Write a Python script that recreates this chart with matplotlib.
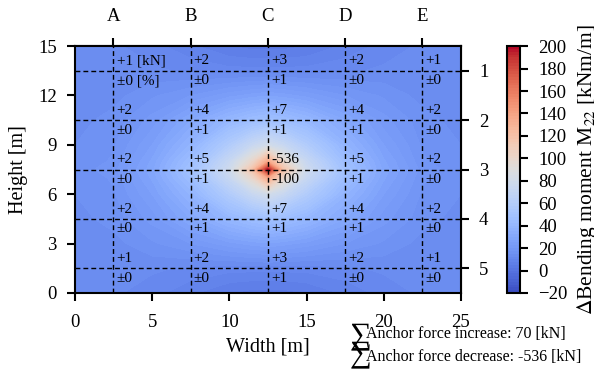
import matplotlib
matplotlib.use("Agg")
import matplotlib.pyplot as plt
import numpy as np

plt.rcParams["font.family"] = ["Liberation Serif", "DejaVu Serif"]
plt.rcParams["mathtext.fontset"] = "stix"
plt.rcParams["font.size"] = 13
for a in ("xtick", "ytick"):
    plt.rcParams[a + ".major.size"] = 6
    plt.rcParams[a + ".major.width"] = 1.5
    plt.rcParams[a + ".major.pad"] = 7
    plt.rcParams[a + ".labelsize"] = 13.5
plt.rcParams["xtick.major.pad"] = 9

# field nodes (m) and bending moment change values (kNm/m)
x_nodes = [0, 2.5, 5, 7.5, 10, 11.5, 12.5, 13.5, 15, 17.5, 20, 22.5, 25]
y_nodes = [0, 1.5, 3, 4.5, 6, 7, 7.5, 8, 9, 10.5, 12, 13.5, 15]
m22 = [
    [14, 13, 11, 8, 5, 4, 4, 4, 5, 8, 11, 13, 14],
    [13, 13, 13, 12, 11, 11, 11, 11, 11, 12, 13, 13, 13],
    [13, 14, 17, 20, 24, 26, 27, 26, 24, 20, 17, 14, 13],
    [14, 16, 21, 30, 40, 45, 47, 45, 40, 30, 21, 16, 14],
    [15, 17, 25, 38, 58, 72, 80, 72, 58, 38, 25, 17, 15],
    [15, 18, 28, 45, 72, 100, 135, 100, 72, 45, 28, 18, 15],
    [16, 19, 29, 48, 77, 118, 200, 118, 77, 48, 29, 19, 16],
    [15, 18, 28, 45, 72, 100, 135, 100, 72, 45, 28, 18, 15],
    [15, 17, 25, 38, 58, 72, 80, 72, 58, 38, 25, 17, 15],
    [14, 16, 21, 30, 40, 45, 47, 45, 40, 30, 21, 16, 14],
    [13, 14, 17, 20, 24, 26, 27, 26, 24, 20, 17, 14, 13],
    [13, 13, 13, 12, 11, 11, 11, 11, 11, 12, 13, 13, 13],
    [14, 13, 11, 8, 5, 4, 4, 4, 5, 8, 11, 13, 14],
]

# anchor positions
anchor_cols = ["A", "B", "C", "D", "E"]
anchor_rows = ["1", "2", "3", "4", "5"]
anchor_x = [2.5, 7.5, 12.5, 17.5, 22.5]
anchor_y = [13.5, 10.5, 7.5, 4.5, 1.5]

# anchor force change [kN] and [%], rows 1..5, columns A..E
force_kn = [
    [1, 2, 3, 2, 1],
    [2, 4, 7, 4, 2],
    [2, 5, -536, 5, 2],
    [2, 4, 7, 4, 2],
    [1, 2, 3, 2, 1],
]
force_pct = [
    [0, 0, 1, 0, 0],
    [0, 1, 1, 1, 0],
    [0, 1, -100, 1, 0],
    [0, 1, 1, 1, 0],
    [0, 0, 1, 0, 0],
]
sum_increase = 70
sum_decrease = -536


def fmt(v):
    if v > 0:
        return "+%d" % v
    if v == 0:
        return "\u00b10"
    return "%d" % v


fig = plt.figure(figsize=(5.94, 3.69), dpi=100)
ax = fig.add_axes([0.126, 0.206, 0.650, 0.669])
cax = fig.add_axes([0.854, 0.206, 0.022, 0.669])

levels = np.linspace(-20, 200, 89)
cs = ax.contourf(x_nodes, y_nodes, np.array(m22), levels=levels, cmap="coolwarm",
                 vmin=-20, vmax=200)
ax.set_xlim(0, 25)
ax.set_ylim(0, 15)
ax.set_xticks([0, 5, 10, 15, 20, 25])
ax.set_yticks([0, 3, 6, 9, 12, 15])
ax.set_xlabel("Width [m]", fontsize=14.5, labelpad=5)
ax.set_ylabel("Height [m]", fontsize=14.5, labelpad=7)
for s in ax.spines.values():
    s.set_linewidth(1.5)

for x in anchor_x:
    ax.axvline(x, color="black", ls="--", lw=1, dashes=(3.5, 2.2))
for y in anchor_y:
    ax.axhline(y, color="black", ls="--", lw=1, dashes=(3.5, 2.2))

for i, y in enumerate(anchor_y):
    for j, x in enumerate(anchor_x):
        top = fmt(force_kn[i][j])
        bot = fmt(force_pct[i][j])
        if i == 0 and j == 0:
            top += " [kN]"
            bot += " [%]"
        ax.text(x + 0.2, y + 0.6, top, fontsize=11, va="center", ha="left")
        ax.text(x + 0.2, y - 0.6, bot, fontsize=11, va="center", ha="left")

top_ax = ax.secondary_xaxis("top")
top_ax.set_xticks(anchor_x)
top_ax.set_xticklabels(anchor_cols)
top_ax.tick_params(pad=9)
top_ax.spines["top"].set_linewidth(1.5)
right_ax = ax.secondary_yaxis("right")
right_ax.set_yticks(anchor_y)
right_ax.set_yticklabels(anchor_rows)
right_ax.spines["right"].set_linewidth(1.5)

cb = fig.colorbar(cs, cax=cax, ticks=np.arange(-20, 201, 20))
cb.set_label(r"$\Delta$Bending moment M$_{22}$ [kNm/m]", fontsize=15.5, labelpad=5)
cb.outline.set_linewidth(1.5)

fig.text(0.588, 0.090, "\u2211", fontsize=22, va="center", ha="left")
fig.text(0.588, 0.040, "\u2211", fontsize=22, va="center", ha="left")
fig.text(0.616, 0.095, "Anchor force increase: %d [kN]" % sum_increase,
         fontsize=11.5, va="center")
fig.text(0.616, 0.033, "Anchor force decrease: %d [kN]" % sum_decrease,
         fontsize=11.5, va="center")

fig.savefig("out.png", dpi=100)
